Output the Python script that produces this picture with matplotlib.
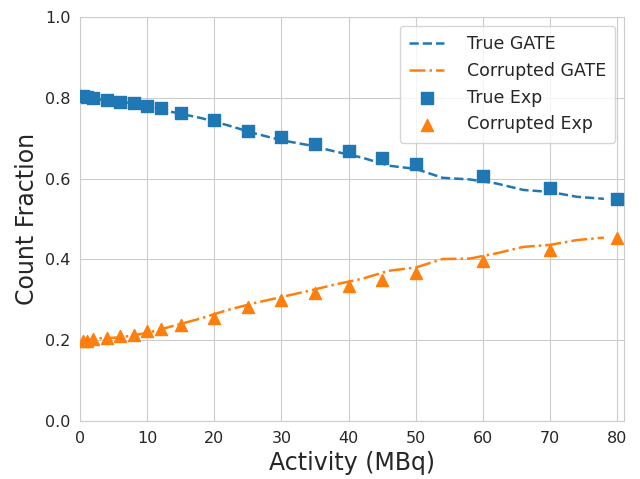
import numpy as np
import matplotlib
matplotlib.use('Agg')
import matplotlib.pyplot as plt
import seaborn as sns

sns.set_style('whitegrid')
plt.rcParams['font.family'] = ['DejaVu Sans']

# GATE simulation curves
gate_activity = [0, 2, 6, 10, 14, 18, 22, 26, 30, 34, 38, 42, 46, 50, 54, 58, 62, 66, 70, 74, 78]
true_gate = [0.806, 0.797, 0.792, 0.778, 0.764, 0.750, 0.732, 0.712, 0.695, 0.683, 0.667,
             0.652, 0.632, 0.624, 0.602, 0.598, 0.588, 0.572, 0.567, 0.555, 0.550]
corrupted_gate = [0.194, 0.204, 0.207, 0.218, 0.236, 0.254, 0.275, 0.292, 0.307, 0.322, 0.338,
                  0.352, 0.372, 0.380, 0.401, 0.402, 0.415, 0.431, 0.436, 0.448, 0.454]

# experimental points
exp_activity = [0.5, 1, 2, 4, 6, 8, 10, 12, 15, 20, 25, 30, 35, 40, 45, 50, 60, 70, 80]
true_exp = [0.804, 0.802, 0.799, 0.795, 0.790, 0.786, 0.779, 0.774, 0.763, 0.745, 0.719,
            0.703, 0.686, 0.668, 0.652, 0.636, 0.606, 0.577, 0.549]
corrupted_exp = [0.197, 0.199, 0.202, 0.206, 0.210, 0.214, 0.222, 0.227, 0.238, 0.256, 0.283,
                 0.300, 0.316, 0.333, 0.349, 0.366, 0.395, 0.424, 0.452]

fig, ax = plt.subplots(figsize=(6.4, 4.79), dpi=100)
fig.subplots_adjust(left=0.125, right=0.975, top=0.9645, bottom=0.121)

ax.plot(gate_activity, true_gate, '--', color='#1f77b4', lw=1.8, label='True GATE')
ax.plot(gate_activity, corrupted_gate, '-.', color='#ff7f0e', lw=1.8, label='Corrupted GATE')
ax.scatter(exp_activity, true_exp, marker='s', s=65, color='#1f77b4', label='True Exp', zorder=3)
ax.scatter(exp_activity, corrupted_exp, marker='^', s=75, color='#ff7f0e', label='Corrupted Exp', zorder=3)

ax.set_xlim(0, 81)
ax.set_ylim(0, 1)
ax.set_xlabel('Activity (MBq)', fontsize=17)
ax.set_ylabel('Count Fraction', fontsize=17)
ax.tick_params(labelsize=11.5)
ax.legend(loc='upper right', fontsize=12.5, handletextpad=1.3, borderpad=0.55)

plt.savefig('out.png', dpi=100)
